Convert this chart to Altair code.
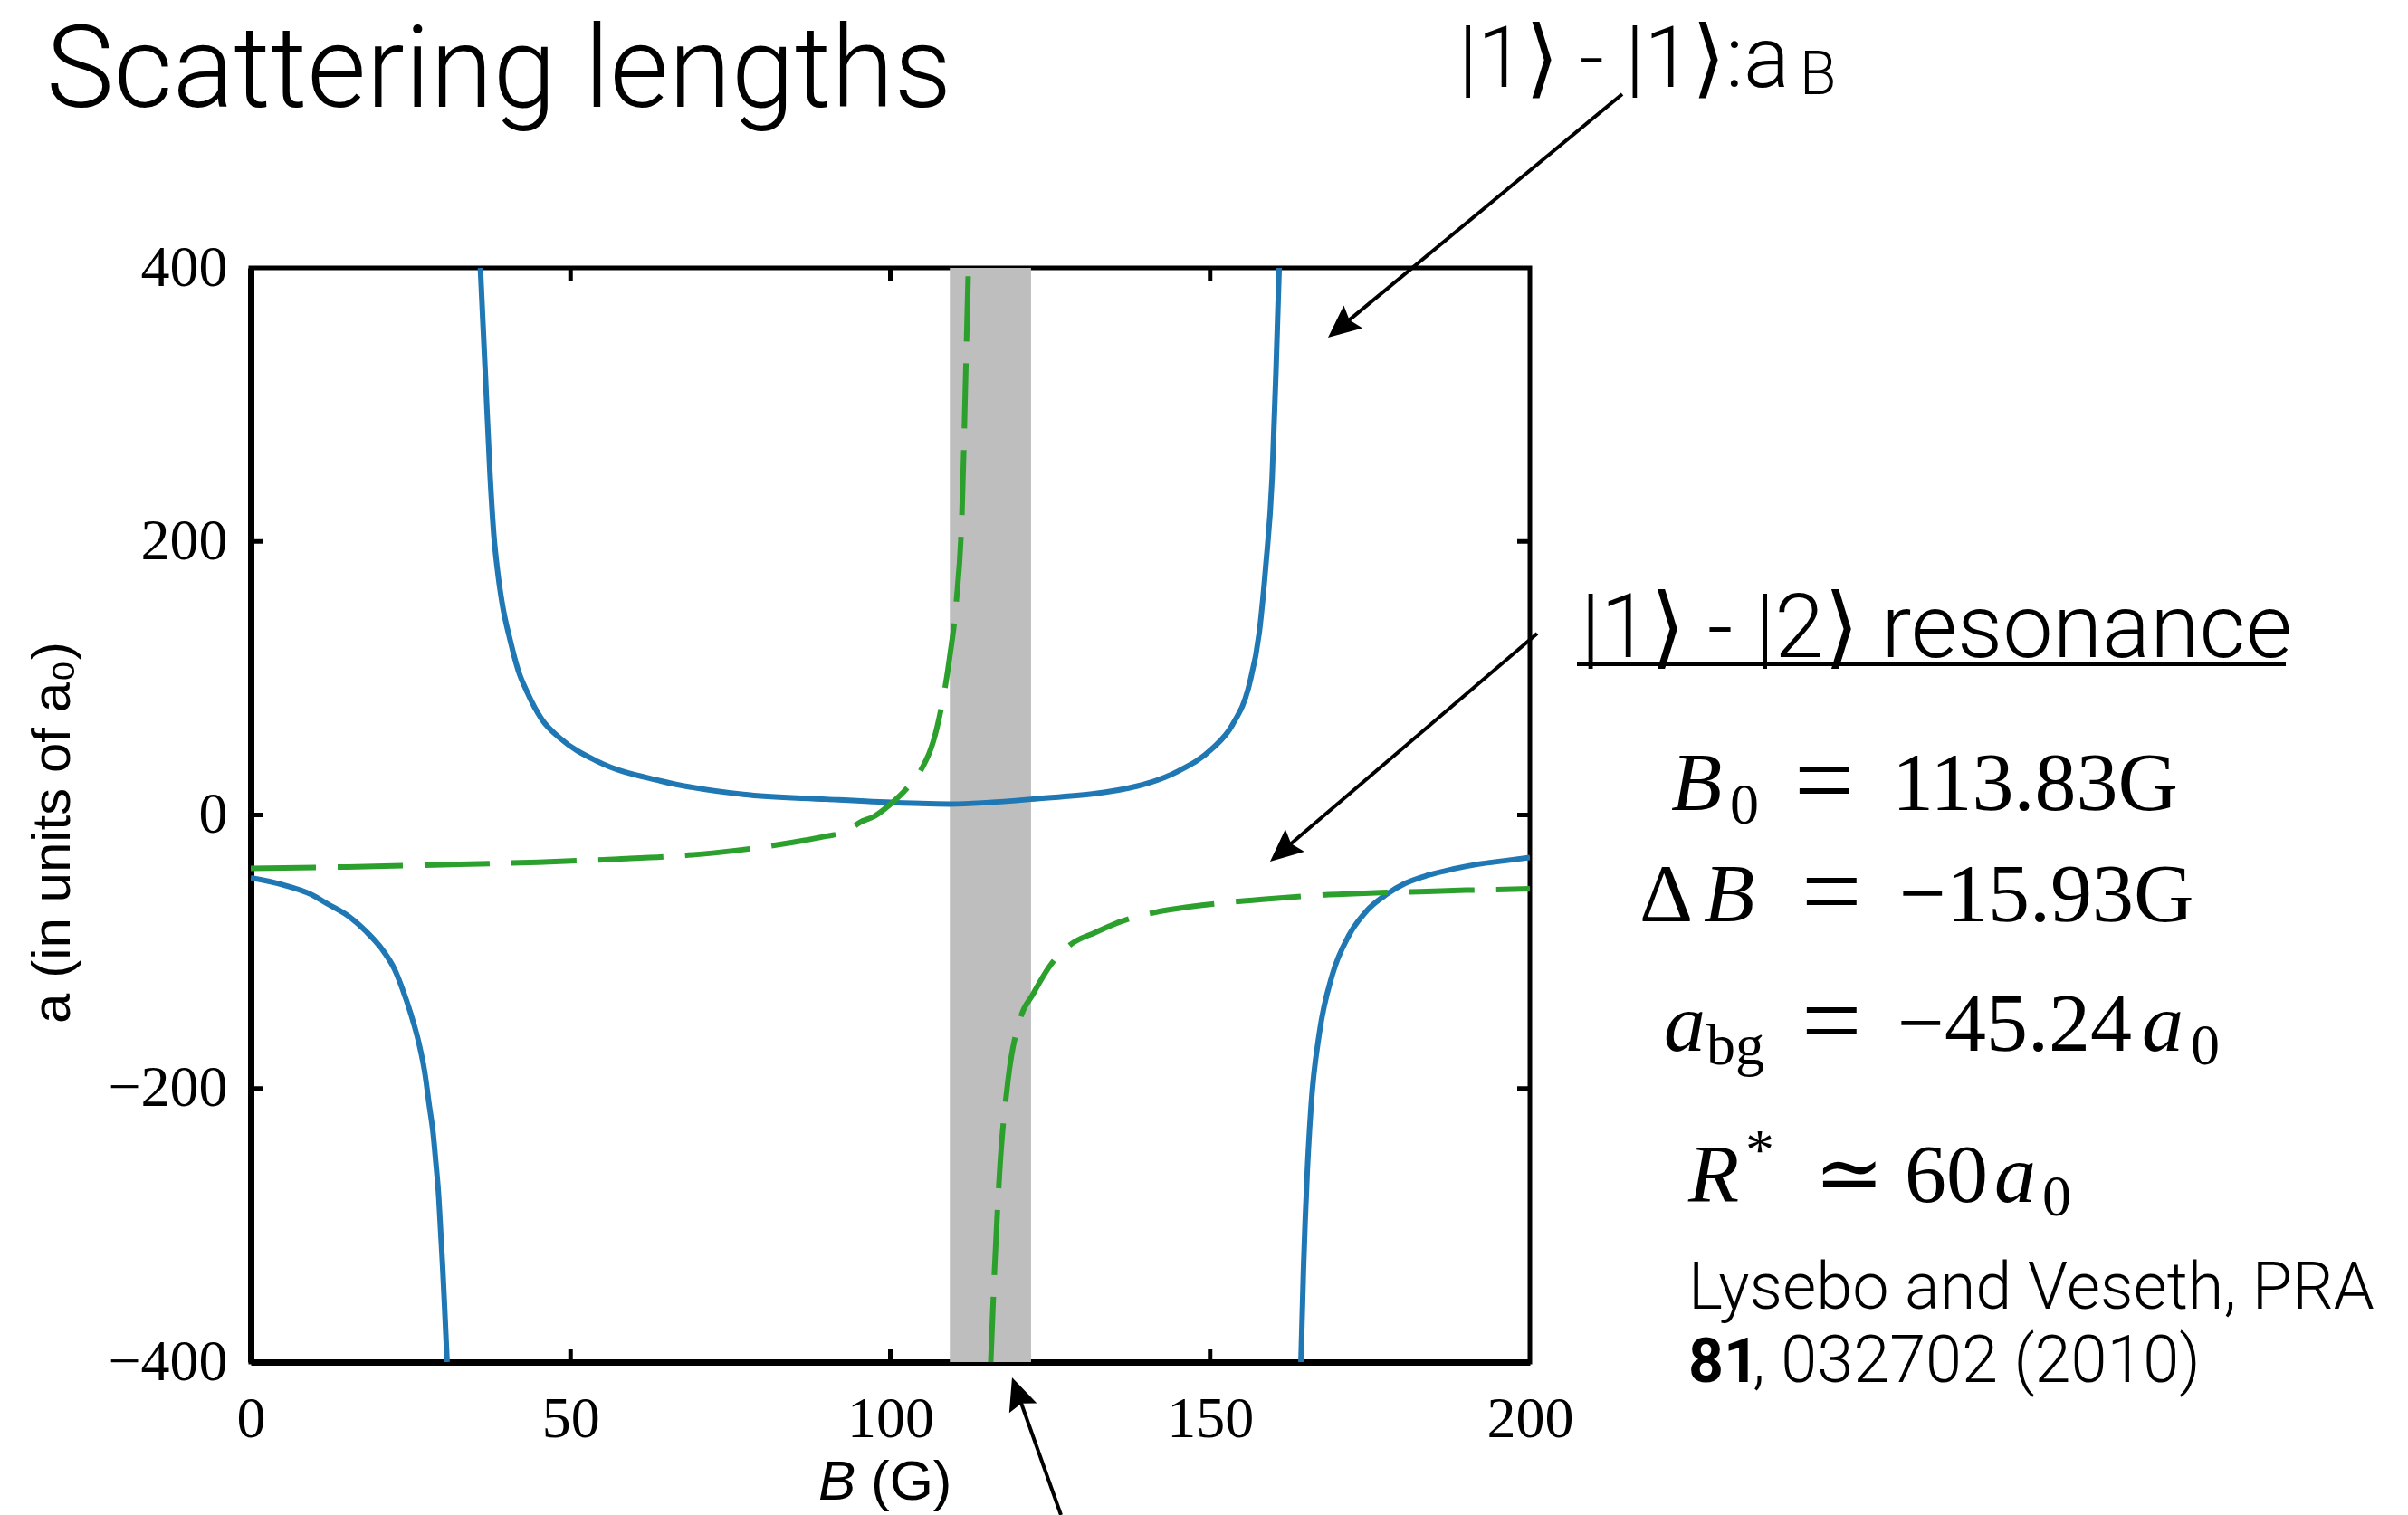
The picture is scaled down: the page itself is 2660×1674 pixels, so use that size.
import math
import altair as alt
import pandas as pd

# ---------------- values ----------------
B_ticks = [0, 50, 100, 150, 200]
a_ticks = [-400, -200, 0, 200, 400]
inner_B_ticks = [50, 100, 150]
inner_a_ticks = [-200, 0, 200]

# |1>-|1> scattering length a_B (solid blue), three branches
aB1_B = [0, 5, 9.4, 12, 15.3, 18, 20.5, 22.5, 23.7, 25, 26.3, 27.2, 27.9, 28.5, 28.9, 29.4, 29.7, 30.0, 30.3, 30.7]
aB1_a = [-46, -51, -58, -65, -74, -85, -98, -113, -127, -145, -167, -188, -212, -232, -252, -280, -305, -330, -359, -400]
aB2_B = [35.9, 36.3, 36.7, 37.4, 38.0, 38.6, 39.3, 40.6, 41.8, 43.2, 45.5, 48.4, 54.3, 64, 77, 90, 101, 109.3, 122,
         138.5, 145, 150.2, 153.5, 156.1, 157.7, 158.7, 159.7, 160.3, 160.8]
aB2_a = [400, 360, 320, 250, 205, 178, 155, 127, 106, 90, 70, 56, 39, 25, 15, 11.5, 9, 8, 11.5,
         21, 32, 48, 66, 95, 134, 182, 247, 325, 400]
aB3_B = [164.2, 164.6, 165.2, 165.8, 167.1, 169.1, 171.7, 174.5, 177.6, 180.5, 184.1, 188, 191.9, 196, 200]
aB3_a = [-400, -332, -260, -212, -159, -117, -88, -70, -58, -50, -44, -39.5, -36, -33.5, -31]

# |1>-|2> resonance (dashed green), two branches
g1_B = [0, 15, 30, 45, 57.5, 65, 72.5, 80, 86.8, 90, 93.3, 95.2, 97.5, 99.8, 102.5, 104.7, 107.3, 109.3, 110.3,
        111.2, 111.8, 112.2]
g1_a = [-39, -38, -36.4, -34.5, -32.2, -30.5, -27.7, -23.5, -18.4, -15.5, -11.7, -5.5, -1, 7, 19, 32, 64, 116, 155,
        221, 325, 400]
g2_B = [115.7, 116.3, 117.1, 118.4, 120.3, 122.3, 125, 128.1, 132, 136, 141.1, 147, 153.5, 160, 168.5, 175, 182.7,
        190, 197.4, 200]
g2_a = [-400, -332, -260, -194, -149, -131, -110, -95, -86, -78, -71.5, -67, -63.6, -61, -58.3, -57, -56.1,
        -55, -54.3, -54]

# shaded field window
band_lo = [109.3]
band_hi = [122.0]

# ---------------- layout ----------------
W, H = 1413, 1209
OX, OY = 277, 296
CW, CH = 2660, 1674

BLUE = "#1f77b4"
GREEN = "#2ca02c"
GRAY = "#bebebe"
SERIF = "Liberation Serif"
MATH = "DejaVu Serif"
SANS = "Roboto, 'DejaVu Sans'"

xscale = alt.Scale(domain=[0, 200], nice=False, zero=False)
yscale = alt.Scale(domain=[-400, 400], nice=False, zero=False)


def branch_df(Bs, As, name):
    return pd.DataFrame({"B": Bs, "a": As, "branch": name})


blue_df = pd.concat([branch_df(aB1_B, aB1_a, "b1"), branch_df(aB2_B, aB2_a, "b2"),
                     branch_df(aB3_B, aB3_a, "b3")])
green_df = pd.concat([branch_df(g1_B, g1_a, "g1"), branch_df(g2_B, g2_a, "g2")])
band_df = pd.DataFrame({"lo": band_lo, "hi": band_hi, "top": [400], "bot": [-400]})

x_axis = alt.Axis(values=B_ticks, title=None, grid=False, ticks=False, domain=True, domainColor="black",
                  domainWidth=7, labelFont=SERIF, labelFontSize=64, labelColor="black", labelPadding=31,
                  labelFlush=False, labelOverlap=False, format="d")
y_axis = alt.Axis(values=a_ticks, title=None, grid=False, ticks=False, domain=True, domainColor="black",
                  domainWidth=7, labelFont=SERIF, labelFontSize=64, labelColor="black", labelPadding=26,
                  labelFlush=False, labelOverlap=False, format="d")


def X(field):
    return alt.X(field, scale=xscale, axis=x_axis)


def Y(field):
    return alt.Y(field, scale=yscale, axis=y_axis)


band = alt.Chart(band_df).mark_rect(color=GRAY).encode(
    x=X("lo:Q"), x2="hi:Q", y=Y("top:Q"), y2="bot:Q")

blue = alt.Chart(blue_df).mark_line(color=BLUE, strokeWidth=6, interpolate="monotone", clip=True).encode(
    x=X("B:Q"), y=Y("a:Q"), detail="branch:N")

green = alt.Chart(green_df).mark_line(color=GREEN, strokeWidth=6, interpolate="monotone", clip=True,
                                      strokeDash=[72, 24]).encode(
    x=X("B:Q"), y=Y("a:Q"), detail="branch:N")

TL = 14
xt_df = pd.DataFrame({"t": inner_B_ticks})
yt_df = pd.DataFrame({"t": inner_a_ticks})
tick_layers = [
    alt.Chart(xt_df).mark_rule(color="black", strokeWidth=5).encode(
        x=X("t:Q"), y=alt.value(0), y2=alt.value(TL)),
    alt.Chart(xt_df).mark_rule(color="black", strokeWidth=5).encode(
        x=X("t:Q"), y=alt.value(H), y2=alt.value(H - TL)),
    alt.Chart(yt_df).mark_rule(color="black", strokeWidth=5).encode(
        y=Y("t:Q"), x=alt.value(0), x2=alt.value(TL)),
    alt.Chart(yt_df).mark_rule(color="black", strokeWidth=5).encode(
        y=Y("t:Q"), x=alt.value(W), x2=alt.value(W - TL)),
]

one = alt.Data(values=[{"k": 1}])


def rule(X1, Y1, X2, Y2, width=4):
    return alt.Chart(one).mark_rule(color="black", strokeWidth=width).encode(
        x=alt.value(X1 - OX), y=alt.value(Y1 - OY), x2=alt.value(X2 - OX), y2=alt.value(Y2 - OY))


HEAD = "M0,0 L-0.45,1 L0,0.85 L0.45,1 Z"


def arrow(X1, Y1, X2, Y2, angle, hl=36):
    d = math.hypot(X2 - X1, Y2 - Y1)
    ux, uy = (X2 - X1) / d, (Y2 - Y1) / d
    ex, ey = X2 - ux * hl * 0.8, Y2 - uy * hl * 0.8
    line = rule(X1, Y1, ex, ey, 4)
    head = alt.Chart(one).mark_point(shape=HEAD, filled=True, color="black", opacity=1, size=(2 * hl) ** 2,
                                      angle=angle, strokeWidth=0).encode(
        x=alt.value(X2 - OX), y=alt.value(Y2 - OY))
    return [line, head]


def piece(text, X0, Y0, size, font, style="normal", weight="normal", align="left", baseline="alphabetic",
          angle=None):
    kw = dict(font=font, fontSize=size, fontStyle=style, fontWeight=weight, align=align, baseline=baseline,
              color="black")
    if angle is not None:
        kw["angle"] = angle
    return alt.Chart(alt.Data(values=[{"t": text}])).mark_text(**kw).encode(
        x=alt.value(X0 - OX), y=alt.value(Y0 - OY), text="t:N")


FS = 92
SUB = 64
EQ = 118
texts = [
    piece("Scattering lengths", 51, 118, 126, SANS, weight=300),
    piece("|1⟩ - |1⟩:a", 1611, 96, 95, SANS, weight=300),
    piece("B", 1988, 104, 66, SANS, weight=300),
    piece("|1⟩ - |2⟩ resonance", 1746, 726, 99, SANS, weight=300),
    # B0 = 113.83G
    piece("B", 1846, 895, FS, SERIF, style="italic"),
    piece("0", 1911, 910, SUB, SERIF),
    piece("=", 1982, 902, EQ, SERIF),
    piece("113.83G", 2090, 895, FS, SERIF),
    # ΔB = −15.93G
    piece("Δ", 1811, 1018, FS, SERIF),
    piece("B", 1882, 1018, FS, SERIF, style="italic"),
    piece("=", 1990, 1025, EQ, SERIF),
    piece("−15.93G", 2098, 1018, FS, SERIF),
    # a_bg = −45.24 a0
    piece("a", 1838, 1161, FS, SERIF, style="italic"),
    piece("bg", 1885, 1176, SUB, SERIF),
    piece("=", 1990, 1168, EQ, SERIF),
    piece("−45.24", 2096, 1161, FS, SERIF),
    piece("a", 2366, 1161, FS, SERIF, style="italic"),
    piece("0", 2420, 1176, SUB, SERIF),
    # R* ≃ 60 a0
    piece("R", 1865, 1328, FS, SERIF, style="italic"),
    piece("*", 1928, 1292, SUB, SERIF),
    piece("≃", 2004, 1328, FS, MATH),
    piece("60", 2104, 1328, FS, SERIF),
    piece("a", 2203, 1328, FS, SERIF, style="italic"),
    piece("0", 2256, 1343, SUB, SERIF),
    # reference
    piece("Lysebo and Veseth, PRA", 1865, 1446, 72, SANS, weight=300),
    piece("81", 1865, 1527, 68, SANS, weight="bold"),
    piece(", 032702 (2010)", 1936, 1527, 72, SANS, weight=300),
    # axis titles
    piece("a (in units of a₀)", 59, 920, 60, "Liberation Sans", align="center", baseline="middle", angle=270),
    piece("B", 904, 1657, 62, "Liberation Sans", style="italic"),
    piece("(G)", 962, 1657, 62, "Liberation Sans"),
]

annot = [rule(1742, 734, 2525, 734, 4)]
annot += arrow(1792, 104, 1467, 373, 230.4)
annot += arrow(1698, 700, 1403, 952, 229.5)
annot += arrow(1172, 1674, 1118, 1522, 340.4)

chart = alt.layer(band, blue, green, *tick_layers, *annot, *texts).properties(
    width=W, height=H,
    autosize=alt.AutoSizeParams(type="none"),
    padding={"left": OX, "top": OY, "right": CW - OX - W, "bottom": CH - OY - H},
).configure(background="white").configure_view(stroke="black", strokeWidth=5)

chart.save("out.html", embed_options={"renderer": "svg", "actions": False})
